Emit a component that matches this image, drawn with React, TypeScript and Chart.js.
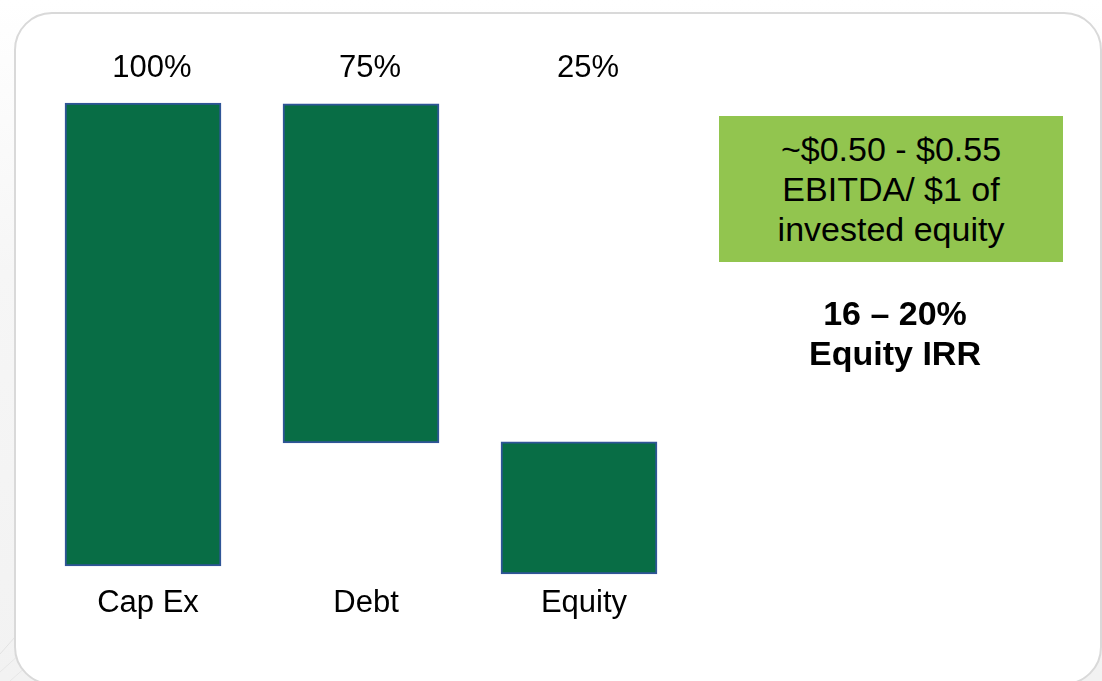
import React, { useEffect, useRef } from 'react';
import { Chart, registerables } from 'chart.js';

Chart.register(...registerables);

// ---- data ----
const categories = ['Cap Ex', 'Debt', 'Equity'];
const barLows = [0, 26.6, -1.7];
const barHighs = [100, 99.8, 26.8];
const shareLabels = ['100%', '75%', '25%'];
const boxLines = ['~$0.50 - $0.55', 'EBITDA/ $1 of', 'invested equity'];
const irrLines = ['16 \u2013 20%', 'Equity IRR'];

const FONT = '"Liberation Sans", Arial, Helvetica, sans-serif';

export default function App() {
  const ref = useRef<HTMLCanvasElement>(null);

  useEffect(() => {
    if (!ref.current) return;
    const textPlugin = {
      id: 'barTexts',
      afterDatasetsDraw(chart: any) {
        const ctx = chart.ctx;
        const meta = chart.getDatasetMeta(0);
        ctx.save();
        ctx.fillStyle = '#000000';
        ctx.font = `31px ${FONT}`;
        ctx.textAlign = 'center';
        ctx.textBaseline = 'middle';
        meta.data.forEach((el: any, i: number) => {
          ctx.fillText(shareLabels[i], el.x + 9, 68);
          ctx.fillText(categories[i], el.x + 5, 603);
        });
        ctx.restore();
      },
    };

    const chart = new Chart(ref.current, {
      type: 'bar',
      data: {
        labels: categories,
        datasets: [
          {
            data: categories.map((_, i) => [barLows[i], barHighs[i]]) as any,
            backgroundColor: '#086d45',
            borderColor: '#2f5597',
            borderWidth: 2,
            borderSkipped: false,
            barThickness: 156,
            clip: false as any,
          },
        ],
      },
      options: {
        animation: false,
        responsive: false,
        maintainAspectRatio: false,
        layout: { padding: { left: 34, right: 414, top: 103, bottom: 115 } },
        plugins: {
          legend: { display: false },
          tooltip: { enabled: false },
        },
        scales: {
          x: { display: false },
          y: { display: false, min: 0, max: 100 },
        },
      },
      plugins: [textPlugin],
    });
    return () => chart.destroy();
  }, []);

  return (
    <div
      style={{
        position: 'fixed',
        left: 0,
        top: 0,
        width: 1102,
        height: 681,
        overflow: 'hidden',
        background: 'linear-gradient(180deg, #ffffff 0%, #f6f6f6 40%, #f2f2f2 100%)',
        fontFamily: FONT,
      }}
    >
      <svg
        width={1102}
        height={681}
        style={{ position: 'absolute', left: 0, top: 0 }}
      >
        <line x1={0} y1={654} x2={30} y2={620} stroke="#e2e2e2" strokeWidth={1} />
        <line x1={0} y1={672} x2={40} y2={636} stroke="#e6e6e6" strokeWidth={1} />
        <line x1={10} y1={681} x2={45} y2={650} stroke="#e6e6e6" strokeWidth={1} />
      </svg>
      <div
        style={{
          position: 'absolute',
          left: 14,
          top: 12,
          width: 1088,
          height: 673,
          boxSizing: 'border-box',
          border: '2px solid #d9d9d9',
          borderRadius: 38,
          background: '#ffffff',
        }}
      />
      <canvas
        ref={ref}
        width={1102}
        height={681}
        style={{ position: 'absolute', left: 0, top: 0, width: 1102, height: 681 }}
      />
      <div
        style={{
          position: 'absolute',
          left: 719,
          top: 116,
          width: 344,
          height: 146,
          background: '#92c54f',
          display: 'flex',
          flexDirection: 'column',
          justifyContent: 'center',
          alignItems: 'center',
          fontSize: 34,
          lineHeight: '40px',
          color: '#000',
          textAlign: 'center',
        }}
      >
        {boxLines.map((l) => (
          <div key={l} style={{ whiteSpace: 'nowrap' }}>{l}</div>
        ))}
      </div>
      <div
        style={{
          position: 'absolute',
          left: 775,
          top: 293,
          width: 240,
          fontSize: 34,
          fontWeight: 'bold',
          lineHeight: '40px',
          color: '#000',
          textAlign: 'center',
        }}
      >
        {irrLines.map((l) => (
          <div key={l} style={{ whiteSpace: 'nowrap' }}>{l}</div>
        ))}
      </div>
    </div>
  );
}
